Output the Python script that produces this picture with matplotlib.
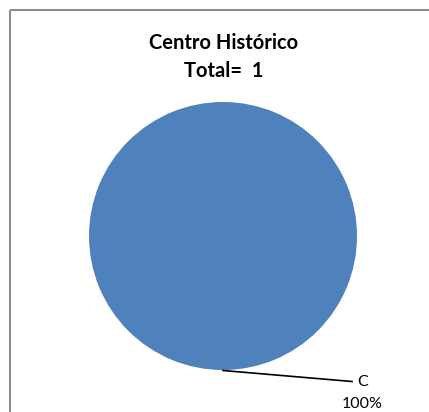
import matplotlib
matplotlib.use("Agg")
import matplotlib.pyplot as plt
from matplotlib.patches import Rectangle

title_lines = ["Centro Histórico", "Total=  1"]
categories = ["C"]
values = [1]
pct_labels = ["100%"]

W, H = 429, 412
fig = plt.figure(figsize=(W / 100, H / 100), dpi=100)
ax = fig.add_axes([0, 0, 1, 1])

wedges, _ = ax.pie(values, center=(223, 236), radius=134, colors=["#4F81BD"],
                   startangle=90, counterclock=False,
                   wedgeprops=dict(linewidth=0))

ax.set_xlim(0, W)
ax.set_ylim(H, 0)
ax.set_aspect("equal")
ax.axis("off")

# outer border (left/top visible, right/bottom cropped)
ax.add_patch(Rectangle((9.5, 9.5), 440, 440, fill=False, edgecolor="#8c8c8c",
                       lw=1.5, clip_on=False))

font = ["Lato", "DejaVu Sans"]
ax.text(224, 49, title_lines[0], ha="center", va="baseline", fontsize=14.5,
        fontweight="bold", family=font)
ax.text(224, 77, title_lines[1], ha="center", va="baseline", fontsize=14.5,
        fontweight="bold", family=font)

ax.plot([223, 352], [370.5, 381.5], color="black", lw=1.2)
ax.text(357, 382, categories[0], ha="left", va="center", fontsize=11.5, family=font)
ax.text(362, 404, pct_labels[0], ha="center", va="center", fontsize=11.5, family=font)

fig.savefig("out.png", dpi=100)
